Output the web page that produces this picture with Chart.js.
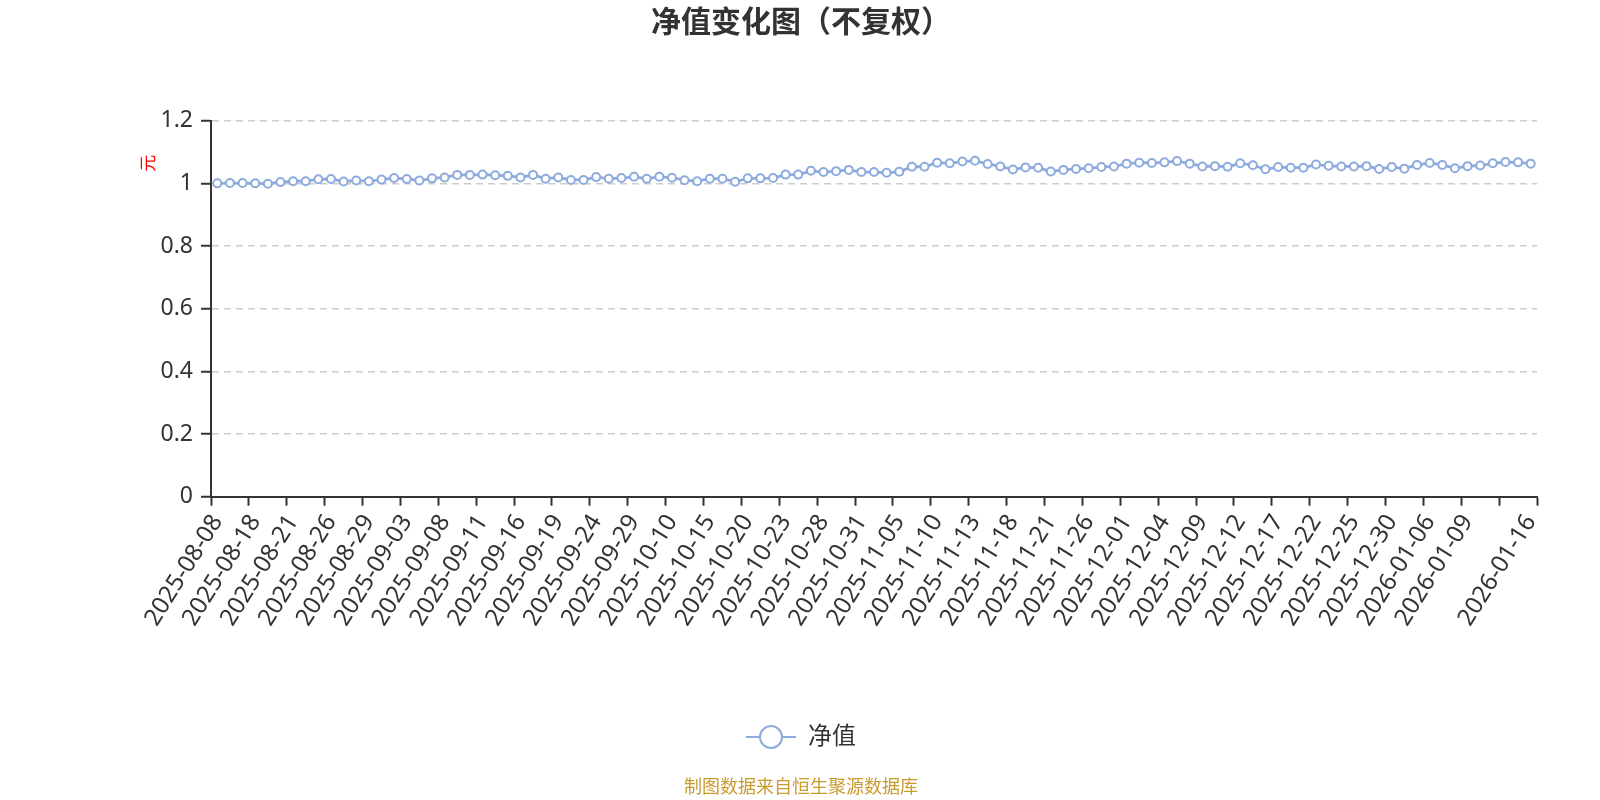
<!DOCTYPE html>
<html>
<head>
<meta charset="utf-8">
<script src="https://cdn.jsdelivr.net/npm/chart.js@4.4.1/dist/chart.umd.min.js"></script>
<style>
html,body{margin:0;padding:0;background:#ffffff;}
#wrap{width:1600px;height:800px;position:relative;background:#ffffff;}
</style>
</head>
<body>
<div id="wrap"><canvas id="c" width="1600" height="800"></canvas></div>
<script>
// ---- data ----
const categories = [
  '2025-08-08','2025-08-14','2025-08-15','2025-08-18','2025-08-19','2025-08-20','2025-08-21','2025-08-22','2025-08-25','2025-08-26',
  '2025-08-27','2025-08-28','2025-08-29','2025-09-01','2025-09-02','2025-09-03','2025-09-04','2025-09-05','2025-09-08','2025-09-09',
  '2025-09-10','2025-09-11','2025-09-12','2025-09-15','2025-09-16','2025-09-17','2025-09-18','2025-09-19','2025-09-22','2025-09-23',
  '2025-09-24','2025-09-25','2025-09-26','2025-09-29','2025-09-30','2025-10-09','2025-10-10','2025-10-13','2025-10-14','2025-10-15',
  '2025-10-16','2025-10-17','2025-10-20','2025-10-21','2025-10-22','2025-10-23','2025-10-24','2025-10-27','2025-10-28','2025-10-29',
  '2025-10-30','2025-10-31','2025-11-03','2025-11-04','2025-11-05','2025-11-06','2025-11-07','2025-11-10','2025-11-11','2025-11-12',
  '2025-11-13','2025-11-14','2025-11-17','2025-11-18','2025-11-19','2025-11-20','2025-11-21','2025-11-24','2025-11-25','2025-11-26',
  '2025-11-27','2025-11-28','2025-12-01','2025-12-02','2025-12-03','2025-12-04','2025-12-05','2025-12-08','2025-12-09','2025-12-10',
  '2025-12-11','2025-12-12','2025-12-15','2025-12-16','2025-12-17','2025-12-18','2025-12-19','2025-12-22','2025-12-23','2025-12-24',
  '2025-12-25','2025-12-26','2025-12-29','2025-12-30','2025-12-31','2026-01-05','2026-01-06','2026-01-07','2026-01-08','2026-01-09',
  '2026-01-12','2026-01-13','2026-01-14','2026-01-15','2026-01-16'
];
const navValues = [
  1.000,1.001,1.001,1.000,0.999,1.004,1.007,1.007,1.013,1.014,
  1.006,1.009,1.007,1.012,1.017,1.014,1.009,1.016,1.019,1.027,
  1.027,1.028,1.026,1.024,1.019,1.027,1.015,1.019,1.011,1.011,
  1.020,1.015,1.017,1.021,1.015,1.021,1.018,1.010,1.007,1.015,
  1.015,1.005,1.016,1.016,1.017,1.028,1.028,1.040,1.036,1.039,
  1.043,1.036,1.036,1.034,1.037,1.053,1.053,1.066,1.064,1.070,
  1.072,1.062,1.054,1.044,1.051,1.050,1.038,1.043,1.046,1.048,
  1.052,1.054,1.063,1.066,1.065,1.067,1.071,1.063,1.054,1.055,
  1.053,1.064,1.058,1.045,1.052,1.050,1.050,1.060,1.056,1.054,
  1.054,1.055,1.046,1.052,1.047,1.059,1.065,1.059,1.048,1.055,
  1.057,1.064,1.068,1.067,1.063
];
const xTickLabels = [
  '2025-08-08','2025-08-18','2025-08-21','2025-08-26','2025-08-29','2025-09-03','2025-09-08','2025-09-11','2025-09-16','2025-09-19',
  '2025-09-24','2025-09-29','2025-10-10','2025-10-15','2025-10-20','2025-10-23','2025-10-28','2025-10-31','2025-11-05','2025-11-10',
  '2025-11-13','2025-11-18','2025-11-21','2025-11-26','2025-12-01','2025-12-04','2025-12-09','2025-12-12','2025-12-17','2025-12-22',
  '2025-12-25','2025-12-30','2026-01-06','2026-01-09','2026-01-16'
];
const yTickValues = [0, 0.2, 0.4, 0.6, 0.8, 1, 1.2];
const seriesName = '净值';
const titleText = '净值变化图（不复权）';
const unitText = '元';
const sourceText = '制图数据来自恒生聚源数据库';

// ---- style ----
const LINE_COLOR = '#8eabdd';
const AXIS_COLOR = '#333333';
const shownX = new Set(xTickLabels);

function makeLegendIcon() {
  const cv = document.createElement('canvas');
  cv.width = 52; cv.height = 28;
  const g = cv.getContext('2d');
  g.strokeStyle = LINE_COLOR;
  g.lineWidth = 2;
  g.beginPath(); g.moveTo(1, 14); g.lineTo(51, 14); g.stroke();
  g.beginPath(); g.arc(26, 14, 11, 0, Math.PI * 2);
  g.fillStyle = '#ffffff'; g.fill();
  g.lineWidth = 2; g.stroke();
  return cv;
}
const legendIcon = makeLegendIcon();

Chart.defaults.font.family = "'Noto Sans','Noto Sans CJK SC',sans-serif";
Chart.defaults.color = '#333333';

new Chart(document.getElementById('c').getContext('2d'), {
  type: 'line',
  data: {
    labels: categories,
    datasets: [{
      label: seriesName,
      data: navValues,
      borderColor: LINE_COLOR,
      backgroundColor: '#ffffff',
      pointBackgroundColor: '#ffffff',
      pointBorderColor: LINE_COLOR,
      pointRadius: 4,
      pointBorderWidth: 2,
      borderWidth: 2.8,
      tension: 0,
      fill: false
    }]
  },
  options: {
    responsive: false,
    devicePixelRatio: 1,
    animation: false,
    layout: { padding: { left: 65, right: 63, top: 0, bottom: 0 } },
    plugins: {
      title: {
        display: true,
        text: titleText,
        color: '#333333',
        font: { size: 30, weight: 'bold' },
        padding: { top: 5, bottom: 79.7 }
      },
      subtitle: {
        display: true,
        position: 'bottom',
        text: sourceText,
        color: '#c99a2e',
        font: { size: 18 },
        padding: { top: 18.2, bottom: 1.2 }
      },
      legend: {
        display: true,
        position: 'bottom',
        labels: {
          usePointStyle: true,
          pointStyleWidth: 50,
          padding: 10,
          font: { size: 24 },
          color: '#333333',
          generateLabels: (chart) => chart.data.datasets.map((ds, i) => ({
            text: ds.label,
            pointStyle: legendIcon,
            fontColor: '#333333',
            fillStyle: 'rgba(0,0,0,0)',
            strokeStyle: 'rgba(0,0,0,0)',
            lineWidth: 0,
            hidden: false,
            datasetIndex: i
          }))
        }
      },
      tooltip: { enabled: false }
    },
    scales: {
      x: {
        type: 'category',
        offset: true,
        grid: {
          display: true,
          offset: true,
          drawOnChartArea: false,
          drawTicks: true,
          tickLength: 9,
          tickWidth: 2,
          tickColor: (c) => (c.index === undefined || c.index % 3 === 0) ? AXIS_COLOR : 'rgba(0,0,0,0)'
        },
        border: { display: true, color: AXIS_COLOR, width: 2 },
        ticks: {
          autoSkip: false,
          minRotation: 58,
          maxRotation: 58,
          padding: 4,
          color: '#333333',
          font: { size: 24 },
          callback: function (v) {
            const l = this.getLabelForValue(v);
            return shownX.has(l) ? l : '';
          }
        },
        afterFit: (s) => { s.height = 218.3; }
      },
      y: {
        min: yTickValues[0],
        max: yTickValues[yTickValues.length - 1],
        afterBuildTicks: (s) => { s.ticks = yTickValues.map(v => ({ value: v })); },
        ticks: {
          padding: 8,
          color: '#333333',
          font: { size: 23 },
          callback: (v) => String(Number(Number(v).toFixed(1)))
        },
        grid: {
          color: (c) => (c.tick && c.tick.value === 0) ? 'rgba(0,0,0,0)' : '#cccccc',
          lineWidth: 1.5,
          drawTicks: true,
          tickLength: 10,
          tickWidth: 2,
          tickColor: AXIS_COLOR
        },
        border: { display: true, color: AXIS_COLOR, width: 2, dash: [7, 5] },
        title: {
          display: true,
          text: unitText + '\u3000\u3000',
          align: 'end',
          color: '#ff0000',
          font: { size: 17 },
          padding: { top: 74.4, bottom: 0 }
        },
        afterFit: (s) => { s.width = 146; }
      }
    }
  }
});
</script>
</body>
</html>
